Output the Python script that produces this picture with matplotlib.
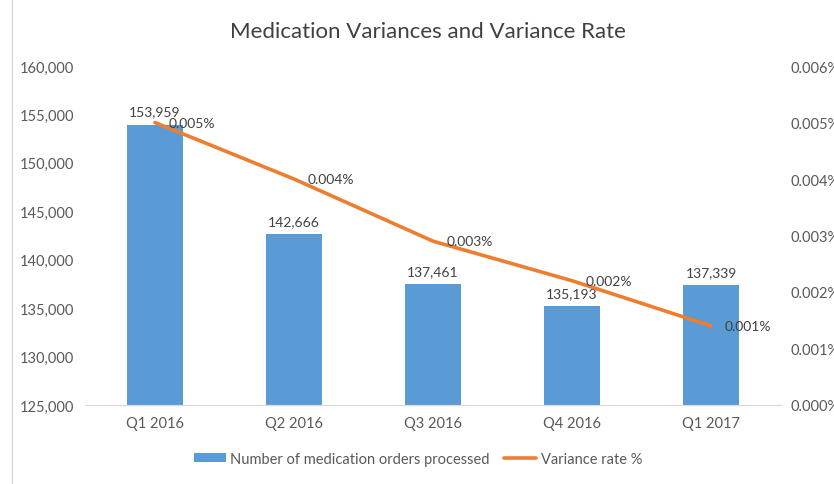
import matplotlib
matplotlib.use("Agg")
import matplotlib.pyplot as plt
from matplotlib.lines import Line2D
from matplotlib.ticker import FuncFormatter

plt.rcParams['font.family'] = ['Lato', 'DejaVu Sans']

categories = ["Q1 2016", "Q2 2016", "Q3 2016", "Q4 2016", "Q1 2017"]
orders = [153959, 142666, 137461, 135193, 137339]
variance_rate = [0.0050, 0.0040, 0.0029, 0.0022, 0.0014]
variance_labels = ["0.005%", "0.004%", "0.003%", "0.002%", "0.001%"]

bar_color = "#5B9BD5"
line_color = "#ED7D31"
text_color = "#404040"
tick_color = "#595959"

fig = plt.figure(figsize=(8.34, 4.85), dpi=100)
ax = fig.add_axes([85.5/834, 1 - 406/485, 695/834, (406-67)/485])
ax2 = ax.twinx()

x = list(range(len(categories)))
bars = ax.bar(x, orders, width=0.4, color=bar_color, zorder=2,
              label="Number of medication orders processed")
ax.set_ylim(125000, 160000)
ax.set_yticks(range(125000, 160001, 5000))
ax.yaxis.set_major_formatter(FuncFormatter(lambda v, p: f"{int(v):,}"))
ax.set_xlim(-0.5, len(categories) - 0.5)
ax.set_xticks(x)
ax.set_xticklabels(categories)

for xi, v in zip(x, orders):
    ax.annotate(f"{v:,}", (xi, v), xytext=(0, 5), textcoords="offset points",
                ha="center", va="bottom", fontsize=10, color=text_color)

line, = ax2.plot(x, variance_rate, color=line_color, linewidth=2.6, zorder=3,
                 solid_capstyle="round", label="Variance rate %")
ax2.set_ylim(0, 0.006)
ax2.set_yticks([i * 0.001 for i in range(7)])
ax2.yaxis.set_major_formatter(FuncFormatter(lambda v, p: f"{v:.3f}%"))
for xi, v, lab in zip(x, variance_rate, variance_labels):
    ax2.annotate(lab, (xi, v), xytext=(10, 0), textcoords="offset points",
                 ha="left", va="center", fontsize=10, color=text_color)

for a in (ax, ax2):
    for s in ("top", "left", "right"):
        a.spines[s].set_visible(False)
    a.spines["bottom"].set_color("#D9D9D9")
    a.tick_params(length=0, labelsize=10.5, labelcolor=tick_color)
ax.tick_params(axis="y", pad=8)
ax2.tick_params(axis="y", pad=7)
ax.tick_params(axis="x", pad=8)

fig.text(428/834, 1 - 32/485, "Medication Variances and Variance Rate",
         ha="center", va="center", fontsize=16, color=text_color)

fig.legend(handles=[bars, line], loc="center", bbox_to_anchor=(418/834, 1 - 460/485),
           ncol=2, frameon=False, fontsize=10.5, labelcolor=tick_color,
           handlelength=2.2, handleheight=0.6, handletextpad=0.3, columnspacing=1.0)

fig.add_artist(Line2D([12/834, 12/834], [0, 1], transform=fig.transFigure,
                      color="#D9D9D9", linewidth=1))

fig.savefig("out.png", dpi=100)
